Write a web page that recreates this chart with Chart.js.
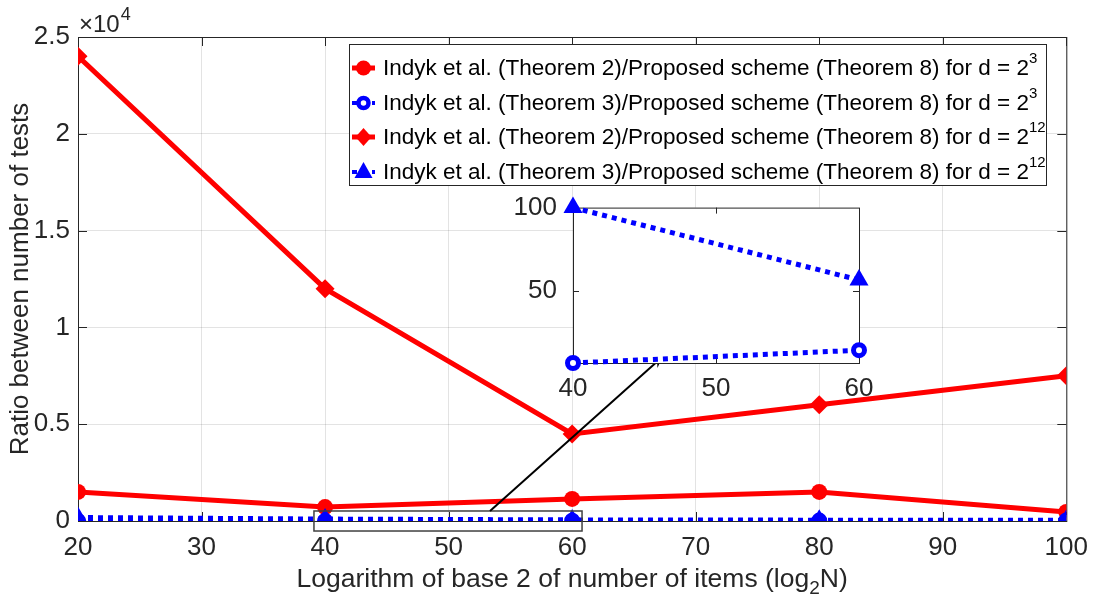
<!DOCTYPE html>
<html>
<head>
<meta charset="utf-8">
<script src="https://cdn.jsdelivr.net/npm/chart.js@4/dist/chart.umd.min.js"></script>
<style>
  html, body { margin: 0; padding: 0; background: #fff; }
  #wrap { position: relative; width: 1099px; height: 608px; }
  #main { position: absolute; left: 0; top: 0; }
  #inset { position: absolute; left: 500px; top: 184px; }
</style>
</head>
<body>
<div id="wrap">
  <canvas id="main" width="1099" height="608"></canvas>
  <canvas id="inset" width="390" height="224"></canvas>
</div>
<script>
// x values: log2 N
const logN = [20, 40, 60, 80, 100];
// ratios
const thm2_d3  = [1500, 720, 1140, 1500, 470];
const thm3_d3  = [3.5, 6.6, 14.3, 21, 27];
const thm2_d12 = [24000, 12000, 4500, 6000, 7500];
const thm3_d12 = [180, 100, 56.5, 44, 38];

const yTickVals = [0, 5000, 10000, 15000, 20000, 25000];
const insetYTicks = [50, 100];
const insetRange = { xmin: 40, xmax: 60, ymin: 6.6, ymax: 100 };
// zoom rectangle and arrow in main data coords
const zoomBox = { x0: 39.1, x1: 60.8, y0: -517, y1: 517 };
const arrowFrom = [53.35, 517];
const arrowTo = [67.3, 8470];

const legendItems = [
  { text: 'Indyk et al. (Theorem 2)/Proposed scheme (Theorem 8) for d = 2', sup: '3', color: '#ff0000', marker: 'circle', dash: [] },
  { text: 'Indyk et al. (Theorem 3)/Proposed scheme (Theorem 8) for d = 2', sup: '3', color: '#0000ff', marker: 'ocircle', dash: [5, 5] },
  { text: 'Indyk et al. (Theorem 2)/Proposed scheme (Theorem 8) for d = 2', sup: '12', color: '#ff0000', marker: 'diamond', dash: [] },
  { text: 'Indyk et al. (Theorem 3)/Proposed scheme (Theorem 8) for d = 2', sup: '12', color: '#0000ff', marker: 'triangle', dash: [5, 5] }
];

const FONT = '"Liberation Sans", Arial, sans-serif';
const INK = '#262626';
const GRID = 'rgba(38,38,38,0.13)';

const pts = (ys) => logN.map((x, i) => ({ x, y: ys[i] }));
const ptsIn = (ys) => pts(ys).filter(p => p.x >= insetRange.xmin && p.x <= insetRange.xmax);

function marker(ctx, kind, x, y, color) {
  ctx.save();
  ctx.fillStyle = color; ctx.strokeStyle = color;
  ctx.beginPath();
  if (kind === 'circle') {
    ctx.arc(x, y, 7.5, 0, Math.PI * 2); ctx.fill();
  } else if (kind === 'ocircle') {
    ctx.arc(x, y, 5, 0, Math.PI * 2); ctx.fillStyle = '#fff'; ctx.fill();
    ctx.lineWidth = 4.5; ctx.stroke();
  } else if (kind === 'diamond') {
    ctx.moveTo(x, y - 9); ctx.lineTo(x + 8, y); ctx.lineTo(x, y + 9); ctx.lineTo(x - 8, y);
    ctx.closePath(); ctx.fill();
  } else if (kind === 'triangle') {
    ctx.moveTo(x, y - 10); ctx.lineTo(x + 9, y + 6); ctx.lineTo(x - 9, y + 6);
    ctx.closePath(); ctx.fill();
  }
  ctx.restore();
}

// box + inward ticks, MATLAB style
function drawBox(chart, xticks, yticks, len) {
  const { ctx, chartArea: a, scales } = chart;
  ctx.save();
  ctx.strokeStyle = INK; ctx.lineWidth = 1;
  ctx.strokeRect(a.left + 0.5, a.top + 0.5, a.right - a.left, a.bottom - a.top);
  ctx.beginPath();
  xticks.forEach(v => {
    const px = Math.round(scales.x.getPixelForValue(v)) + 0.5;
    ctx.moveTo(px, a.bottom); ctx.lineTo(px, a.bottom - len);
    ctx.moveTo(px, a.top); ctx.lineTo(px, a.top + len);
  });
  yticks.forEach(v => {
    const py = Math.round(scales.y.getPixelForValue(v)) + 0.5;
    ctx.moveTo(a.left, py); ctx.lineTo(a.left + len, py);
    ctx.moveTo(a.right, py); ctx.lineTo(a.right - len, py);
  });
  ctx.stroke();
  ctx.restore();
}

const mainDeco = {
  id: 'mainDeco',
  beforeDatasetsDraw(chart) {
    drawBox(chart, logN.concat([30, 50, 70, 90]), yTickVals, 9);
  },
  afterDraw(chart) {
    const { ctx, chartArea: a, scales: { x, y } } = chart;
    ctx.save();
    // zoom rectangle
    ctx.strokeStyle = '#404040'; ctx.lineWidth = 1.5;
    const rx0 = x.getPixelForValue(zoomBox.x0), rx1 = x.getPixelForValue(zoomBox.x1);
    const ry0 = y.getPixelForValue(zoomBox.y1), ry1 = y.getPixelForValue(zoomBox.y0);
    ctx.strokeRect(rx0, ry0, rx1 - rx0, ry1 - ry0);
    // arrow
    const ax0 = x.getPixelForValue(arrowFrom[0]), ay0 = y.getPixelForValue(arrowFrom[1]);
    const ax1 = x.getPixelForValue(arrowTo[0]), ay1 = y.getPixelForValue(arrowTo[1]);
    const ang = Math.atan2(ay1 - ay0, ax1 - ax0);
    ctx.strokeStyle = '#000'; ctx.fillStyle = '#000'; ctx.lineWidth = 2;
    ctx.beginPath(); ctx.moveTo(ax0, ay0);
    ctx.lineTo(ax1 - 8 * Math.cos(ang), ay1 - 8 * Math.sin(ang)); ctx.stroke();
    ctx.beginPath();
    ctx.moveTo(ax1, ay1);
    ctx.lineTo(ax1 - 11 * Math.cos(ang) + 5 * Math.sin(ang), ay1 - 11 * Math.sin(ang) - 5 * Math.cos(ang));
    ctx.lineTo(ax1 - 7 * Math.cos(ang), ay1 - 7 * Math.sin(ang));
    ctx.lineTo(ax1 - 11 * Math.cos(ang) - 5 * Math.sin(ang), ay1 - 11 * Math.sin(ang) + 5 * Math.cos(ang));
    ctx.closePath(); ctx.fill();

    // exponent label
    ctx.fillStyle = INK; ctx.textBaseline = 'alphabetic'; ctx.textAlign = 'left';
    ctx.font = '24px ' + FONT;
    ctx.fillText('\u00d710', a.left + 1, 32);
    const w10 = ctx.measureText('\u00d710').width;
    ctx.font = '18px ' + FONT;
    ctx.fillText('4', a.left + 1 + w10 + 1, 20);

    // y title
    ctx.font = '26px ' + FONT; ctx.textAlign = 'center'; ctx.textBaseline = 'middle';
    ctx.save();
    ctx.translate(21, (a.top + a.bottom) / 2);
    ctx.rotate(-Math.PI / 2);
    ctx.fillText('Ratio between number of tests', 0, 0);
    ctx.restore();

    // x title with subscript
    const p1 = 'Logarithm of base 2 of number of items (log', sub = '2', p2 = 'N)';
    ctx.textAlign = 'left'; ctx.textBaseline = 'alphabetic';
    ctx.font = '26.5px ' + FONT;
    const w1 = ctx.measureText(p1).width, w3 = ctx.measureText(p2).width;
    ctx.font = '19px ' + FONT;
    const w2 = ctx.measureText(sub).width;
    let tx = (a.left + a.right) / 2 - (w1 + w2 + w3) / 2;
    const ty = 587;
    ctx.font = '26.5px ' + FONT; ctx.fillText(p1, tx, ty); tx += w1;
    ctx.font = '19px ' + FONT; ctx.fillText(sub, tx, ty + 7); tx += w2;
    ctx.font = '26.5px ' + FONT; ctx.fillText(p2, tx, ty);

    // legend
    const lx0 = 349, ly0 = 44, lx1 = 1046, ly1 = 185;
    ctx.fillStyle = '#fff'; ctx.fillRect(lx0, ly0, lx1 - lx0, ly1 - ly0);
    ctx.strokeStyle = INK; ctx.lineWidth = 1;
    ctx.strokeRect(lx0 + 0.5, ly0 + 0.5, lx1 - lx0, ly1 - ly0);
    const rowY = [68, 103, 137, 172];
    legendItems.forEach((it, i) => {
      const cy = rowY[i];
      ctx.strokeStyle = it.color; ctx.lineWidth = it.dash.length ? 4 : 5;
      ctx.setLineDash(it.dash);
      ctx.beginPath(); ctx.moveTo(352, cy); ctx.lineTo(375, cy); ctx.stroke();
      ctx.setLineDash([]);
      marker(ctx, it.marker, 363.5, cy, it.color);
      ctx.fillStyle = '#000'; ctx.textBaseline = 'middle'; ctx.textAlign = 'left';
      ctx.font = '22.5px ' + FONT;
      ctx.fillText(it.text, 383, cy + 1);
      const tw = ctx.measureText(it.text).width;
      ctx.font = '15px ' + FONT;
      ctx.fillText(it.sup, 383 + tw, cy - 9);
    });
    ctx.restore();
  }
};

const tickFont = { family: FONT, size: 26 };

new Chart(document.getElementById('main'), {
  type: 'line',
  data: {
    datasets: [
      { label: 'thm2_d3', data: pts(thm2_d3), borderColor: '#ff0000', backgroundColor: '#ff0000',
        borderWidth: 5, pointStyle: 'circle', pointRadius: 8, pointBorderWidth: 0, order: 4 },
      { label: 'thm3_d3', data: pts(thm3_d3), borderColor: '#0000ff', backgroundColor: '#ffffff',
        borderWidth: 5, borderDash: [5, 5], pointStyle: 'circle', pointRadius: 5.5, pointBorderWidth: 5, order: 3 },
      { label: 'thm2_d12', data: pts(thm2_d12), borderColor: '#ff0000', backgroundColor: '#ff0000',
        borderWidth: 5, pointStyle: 'rectRot', pointRadius: 9.5, pointBorderWidth: 0, order: 2 },
      { label: 'thm3_d12', data: pts(thm3_d12), borderColor: '#0000ff', backgroundColor: '#0000ff',
        borderWidth: 5, borderDash: [5, 5], pointStyle: 'triangle', pointRadius: 11, pointBorderWidth: 0, order: 1 }
    ]
  },
  options: {
    responsive: false, animation: false,
    layout: { padding: { left: 0, top: 37, right: 28, bottom: 0 } },
    plugins: { legend: { display: false }, tooltip: { enabled: false } },
    elements: { line: { tension: 0 } },
    scales: {
      x: {
        type: 'linear', min: 20, max: 100,
        ticks: { stepSize: 10, color: INK, font: tickFont, padding: 11, maxRotation: 0 },
        grid: { color: GRID, drawTicks: false }, border: { display: false },
        afterFit: s => { s.height = 87; }
      },
      y: {
        min: 0, max: 25000,
        ticks: { stepSize: 5000, color: INK, font: tickFont, padding: 8, callback: v => v / 10000 },
        grid: { color: GRID, drawTicks: false }, border: { display: false },
        afterFit: s => { s.width = 78; }
      }
    }
  },
  plugins: [mainDeco]
});

const insetDeco = {
  id: 'insetDeco',
  beforeDraw(chart) {
    const { ctx, chartArea: a } = chart;
    ctx.save(); ctx.fillStyle = '#fff';
    ctx.fillRect(a.left, a.top, a.right - a.left, a.bottom - a.top);
    ctx.restore();
  },
  beforeDatasetsDraw(chart) {
    drawBox(chart, [50], [50], 6);
  }
};

new Chart(document.getElementById('inset'), {
  type: 'line',
  data: {
    datasets: [
      { data: ptsIn(thm3_d3), borderColor: '#0000ff', backgroundColor: '#ffffff',
        borderWidth: 5, borderDash: [5, 5], pointStyle: 'circle', pointRadius: 5.5, pointBorderWidth: 5, order: 2, clip: false },
      { data: ptsIn(thm3_d12), borderColor: '#0000ff', backgroundColor: '#0000ff',
        borderWidth: 5, borderDash: [5, 5], pointStyle: 'triangle', pointRadius: 11, pointBorderWidth: 0, order: 1, clip: false }
    ]
  },
  options: {
    responsive: false, animation: false,
    layout: { padding: { left: 0, top: 23, right: 31, bottom: 0 } },
    plugins: { legend: { display: false }, tooltip: { enabled: false } },
    scales: {
      x: {
        type: 'linear', min: insetRange.xmin, max: insetRange.xmax,
        ticks: { stepSize: 10, color: INK, font: tickFont, padding: 2, maxRotation: 0 },
        grid: { display: false }, border: { display: false },
        afterFit: s => { s.height = 45; }
      },
      y: {
        min: insetRange.ymin, max: insetRange.ymax,
        afterBuildTicks: s => { s.ticks = insetYTicks.map(v => ({ value: v })); },
        ticks: { color: INK, font: tickFont, padding: 8 },
        grid: { display: false }, border: { display: false },
        afterFit: s => { s.width = 73; }
      }
    }
  },
  plugins: [insetDeco]
});
</script>
</body>
</html>
